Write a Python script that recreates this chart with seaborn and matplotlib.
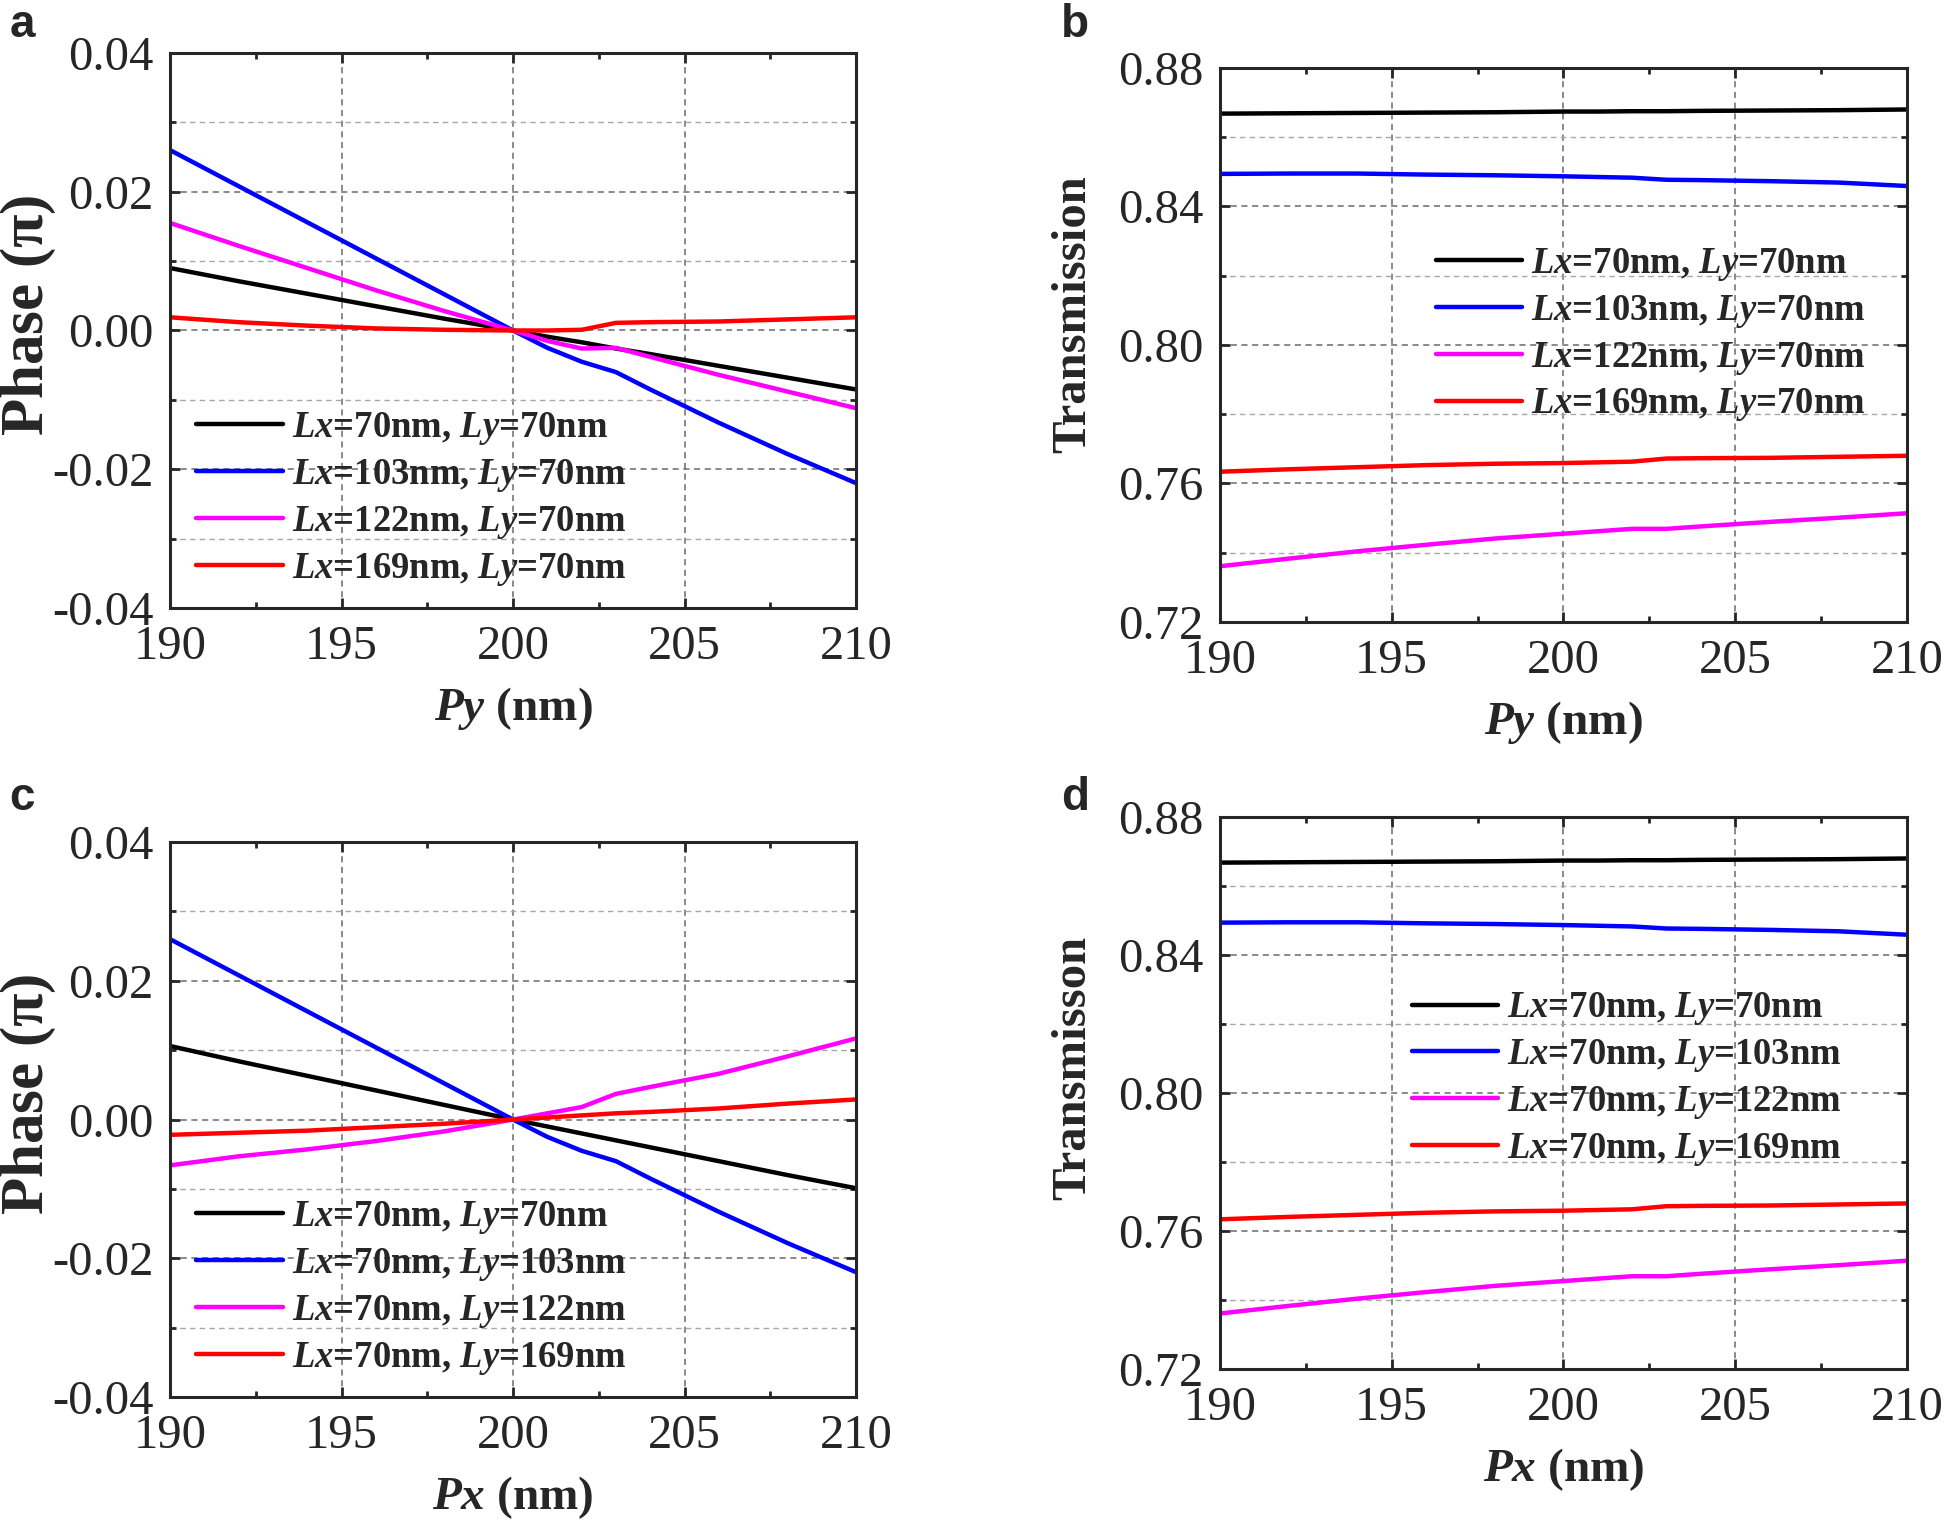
import numpy as np
import pandas as pd
import seaborn as sns
import matplotlib.pyplot as plt
from matplotlib.ticker import MultipleLocator

# --- DATA ---
period = [190, 192, 194, 196, 198, 200, 201, 202, 203, 204, 206, 208, 210]

# a: phase vs Py
phase_py_70 = [0.0090, 0.0071, 0.0053, 0.0035, 0.0017, 0.0, -0.0009, -0.0017, -0.0026, -0.0034, -0.0051, -0.0068, -0.0085]
phase_py_103 = [0.0260, 0.0208, 0.0156, 0.0104, 0.0052, 0.0, -0.0025, -0.0045, -0.0060, -0.0085, -0.0133, -0.0178, -0.0220]
phase_py_122 = [0.0155, 0.0122, 0.0090, 0.0058, 0.0028, 0.0, -0.0015, -0.0026, -0.0025, -0.0038, -0.0064, -0.0088, -0.0112]
phase_py_169 = [0.0019, 0.0012, 0.0007, 0.0003, 0.0001, 0.0, 0.0, 0.0001, 0.0011, 0.0012, 0.0013, 0.0016, 0.0019]

# c: phase vs Px
phase_px_70 = [0.0106, 0.0084, 0.0063, 0.0042, 0.0021, 0.0, -0.0010, -0.0020, -0.0030, -0.0040, -0.0060, -0.0080, -0.0099]
phase_px_103 = [0.0260, 0.0208, 0.0156, 0.0104, 0.0052, 0.0, -0.0025, -0.0045, -0.0060, -0.0085, -0.0133, -0.0178, -0.0220]
phase_px_122 = [-0.0066, -0.0053, -0.0043, -0.0031, -0.0017, 0.0, 0.0009, 0.0018, 0.0037, 0.0047, 0.0066, 0.0091, 0.0117]
phase_px_169 = [-0.0022, -0.0019, -0.0016, -0.0011, -0.0006, 0.0, 0.0003, 0.0006, 0.0009, 0.0011, 0.0016, 0.0023, 0.0029]

# b/d: transmission (same curves in both panels)
trans_70 = [0.8668, 0.8669, 0.8670, 0.8671, 0.8672, 0.8674, 0.8674, 0.8675, 0.8675, 0.8676, 0.8677, 0.8678, 0.8680]
trans_103 = [0.8494, 0.8495, 0.8495, 0.8492, 0.8490, 0.8487, 0.8485, 0.8483, 0.8477, 0.8476, 0.8473, 0.8469, 0.8459]
trans_122 = [0.7361, 0.7383, 0.7404, 0.7423, 0.7441, 0.7455, 0.7462, 0.7469, 0.7469, 0.7476, 0.7489, 0.7501, 0.7514]
trans_169 = [0.7634, 0.7641, 0.7647, 0.7653, 0.7657, 0.7659, 0.7661, 0.7663, 0.7672, 0.7673, 0.7674, 0.7677, 0.7680]

colors = ['#000000', '#0000ff', '#ff00ff', '#ff0000']
labels_lx = [r'$Lx$=70nm, $Ly$=70nm', r'$Lx$=103nm, $Ly$=70nm',
             r'$Lx$=122nm, $Ly$=70nm', r'$Lx$=169nm, $Ly$=70nm']
labels_ly = [r'$Lx$=70nm, $Ly$=70nm', r'$Lx$=70nm, $Ly$=103nm',
             r'$Lx$=70nm, $Ly$=122nm', r'$Lx$=70nm, $Ly$=169nm']

sns.set_theme(style='ticks')
plt.rcParams['font.family'] = ['Liberation Serif', 'DejaVu Serif']
plt.rcParams['mathtext.fontset'] = 'custom'
plt.rcParams['mathtext.it'] = 'Liberation Serif:italic:bold'
plt.rcParams['mathtext.rm'] = 'Liberation Serif:bold'
plt.rcParams['mathtext.bf'] = 'Liberation Serif:bold'


def draw_panel(fig, rect, series, labels, ylim, ymajor, yticklabels, xlabel, ylabel,
               ylabel_size, ylabel_xy, leg_anchor):
    ax = fig.add_axes(rect)
    for ys, col, lab in zip(series, colors, labels):
        df = pd.DataFrame({'x': period, 'y': ys})
        sns.lineplot(data=df, x='x', y='y', color=col, lw=3.2, label=lab, ax=ax)

    ax.set_xlim(190, 210)
    ax.set_ylim(*ylim)
    ax.xaxis.set_major_locator(MultipleLocator(5))
    ax.xaxis.set_minor_locator(MultipleLocator(2.5))
    ax.yaxis.set_minor_locator(MultipleLocator(ymajor / 2))
    ax.set_yticks(np.arange(ylim[0], ylim[1] + ymajor / 10, ymajor))
    ax.set_yticklabels(yticklabels)

    ax.grid(which='major', axis='both', ls=(0, (4, 3)), color='#6a6a6a', lw=1.1)
    ax.grid(which='minor', axis='y', ls=(0, (4, 3)), color='#a8a8a8', lw=1.0)
    ax.set_axisbelow(True)

    ax.tick_params(which='both', direction='in', top=True, right=True,
                   labelsize=35, width=2)
    ax.tick_params(which='major', length=7, pad=12)
    ax.tick_params(which='minor', length=4)
    for sp in ax.spines.values():
        sp.set_linewidth(2.2)

    ax.set_xlabel(xlabel, fontsize=34, fontweight='bold', labelpad=12)
    ax.set_ylabel(ylabel, fontsize=ylabel_size, fontweight='bold')
    ax.yaxis.set_label_coords(*ylabel_xy)

    ax.legend(loc='upper left', bbox_to_anchor=leg_anchor, frameon=False,
              prop={'size': 26.4, 'weight': 'bold'}, handlelength=2.36,
              handletextpad=0.25, labelspacing=0.27, borderpad=0, borderaxespad=0)
    return ax


fig = plt.figure(figsize=(19.46, 15.23), dpi=100)

phase_ticks = ['-0.04', '-0.02', '0.00', '0.02', '0.04']
trans_ticks = ['0.72', '0.76', '0.80', '0.84', '0.88']

draw_panel(fig, [0.0874, 0.6008, 0.3525, 0.3644],
           [phase_py_70, phase_py_103, phase_py_122, phase_py_169], labels_lx,
           (-0.04, 0.04), 0.02, phase_ticks, r'$Py$ (nm)', r'Phase ($\mathrm{\pi}$)',
           44, (-0.163, 0.527), (0.038, 0.357))
draw_panel(fig, [0.6269, 0.5916, 0.3530, 0.3638],
           [trans_70, trans_103, trans_122, trans_169], labels_lx,
           (0.72, 0.88), 0.04, trans_ticks, r'$Py$ (nm)', 'Transmission',
           35, (-0.182, 0.556), (0.314, 0.679))
draw_panel(fig, [0.0874, 0.0827, 0.3525, 0.3644],
           [phase_px_70, phase_px_103, phase_px_122, phase_px_169], labels_ly,
           (-0.04, 0.04), 0.02, phase_ticks, r'$Px$ (nm)', r'Phase ($\mathrm{\pi}$)',
           44, (-0.163, 0.545), (0.038, 0.357))
draw_panel(fig, [0.6269, 0.1011, 0.3530, 0.3624],
           [trans_70, trans_103, trans_122, trans_169], labels_ly,
           (0.72, 0.88), 0.04, trans_ticks, r'$Px$ (nm)', 'Transmisson',
           35, (-0.182, 0.545), (0.279, 0.686))

for txt, x, y in [('a', 22, 25), ('b', 1075, 25), ('c', 22, 798), ('d', 1075, 798)]:
    fig.text(x / 1946, 1 - y / 1523, txt, fontsize=33, fontweight='bold',
             family='Liberation Sans', ha='center', va='center')

fig.savefig('out.png', dpi=100)
